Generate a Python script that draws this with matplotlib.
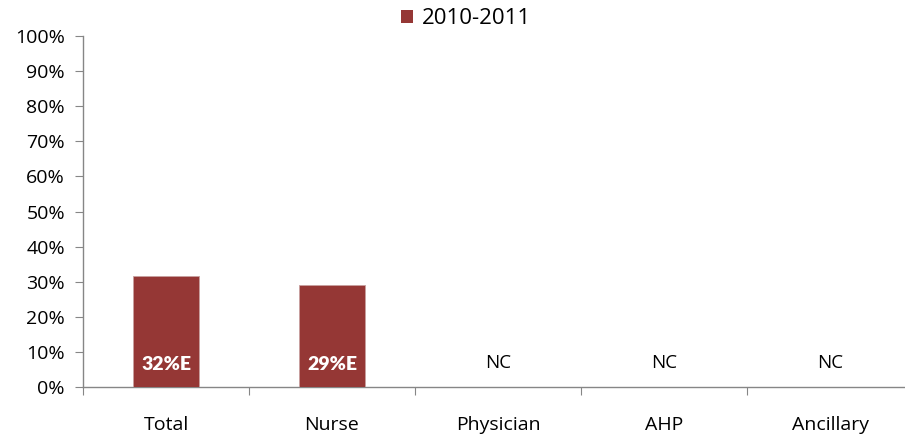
import numpy as np
import matplotlib
matplotlib.use('Agg')
from matplotlib import pyplot as plt
from matplotlib.patches import Patch

categories = ['Total', 'Nurse', 'Physician', 'AHP', 'Ancillary']
values = [31.6, 29.1, 0, 0, 0]
labels = ['32%E', '29%E', 'NC', 'NC', 'NC']
series_name = '2010-2011'
bar_color = '#953735'

plt.rcParams['font.family'] = ['Open Sans', 'DejaVu Sans']

fig = plt.figure(figsize=(9.05, 4.37), dpi=100)
W, H = 905.0, 437.0
ax = fig.add_axes([83 / W, 1 - 387 / H, 830 / W, 351 / H])

x = np.arange(len(categories))
ax.bar(x, values, width=0.4, color=bar_color, edgecolor='#c8a0a0', linewidth=0.6, zorder=3)

for xi, v, lab in zip(x, values, labels):
  if v > 0:
    ax.text(xi, 6.3, lab, ha='center', va='center', color='white',
            fontsize=14, fontweight='heavy', family=['Lato', 'DejaVu Sans'])
  else:
    ax.text(xi, 6.8, lab, ha='center', va='center', color='black', fontsize=13.5)

ax.set_xlim(-0.5, len(categories) - 0.5)
ax.set_ylim(0, 100)
ax.set_yticks(np.arange(0, 101, 10))
ax.set_yticklabels(['%d%%' % t for t in range(0, 101, 10)], fontsize=14)

ax.set_xticks(np.arange(-0.5, len(categories), 1.0))
ax.set_xticklabels([])
ax.set_xticks(x, minor=True)
ax.set_xticklabels(categories, minor=True, fontsize=14)
ax.tick_params(axis='x', which='minor', length=0, pad=21)
ax.tick_params(axis='x', which='major', length=6, color='#868686', direction='out')
ax.tick_params(axis='y', length=6, color='#868686', direction='out', pad=7)

for side in ['top', 'right']:
  ax.spines[side].set_visible(False)
for side in ['left', 'bottom']:
  ax.spines[side].set_color('#868686')
  ax.spines[side].set_linewidth(1.0)

handle = Patch(facecolor=bar_color, edgecolor='none')
fig.legend([handle], [series_name], loc='center', bbox_to_anchor=(466 / W, 1 - 19 / H),
           frameon=False, fontsize=16, handlelength=0.55, handleheight=0.55,
           handletextpad=0.4)

fig.savefig('out.png', dpi=100)
